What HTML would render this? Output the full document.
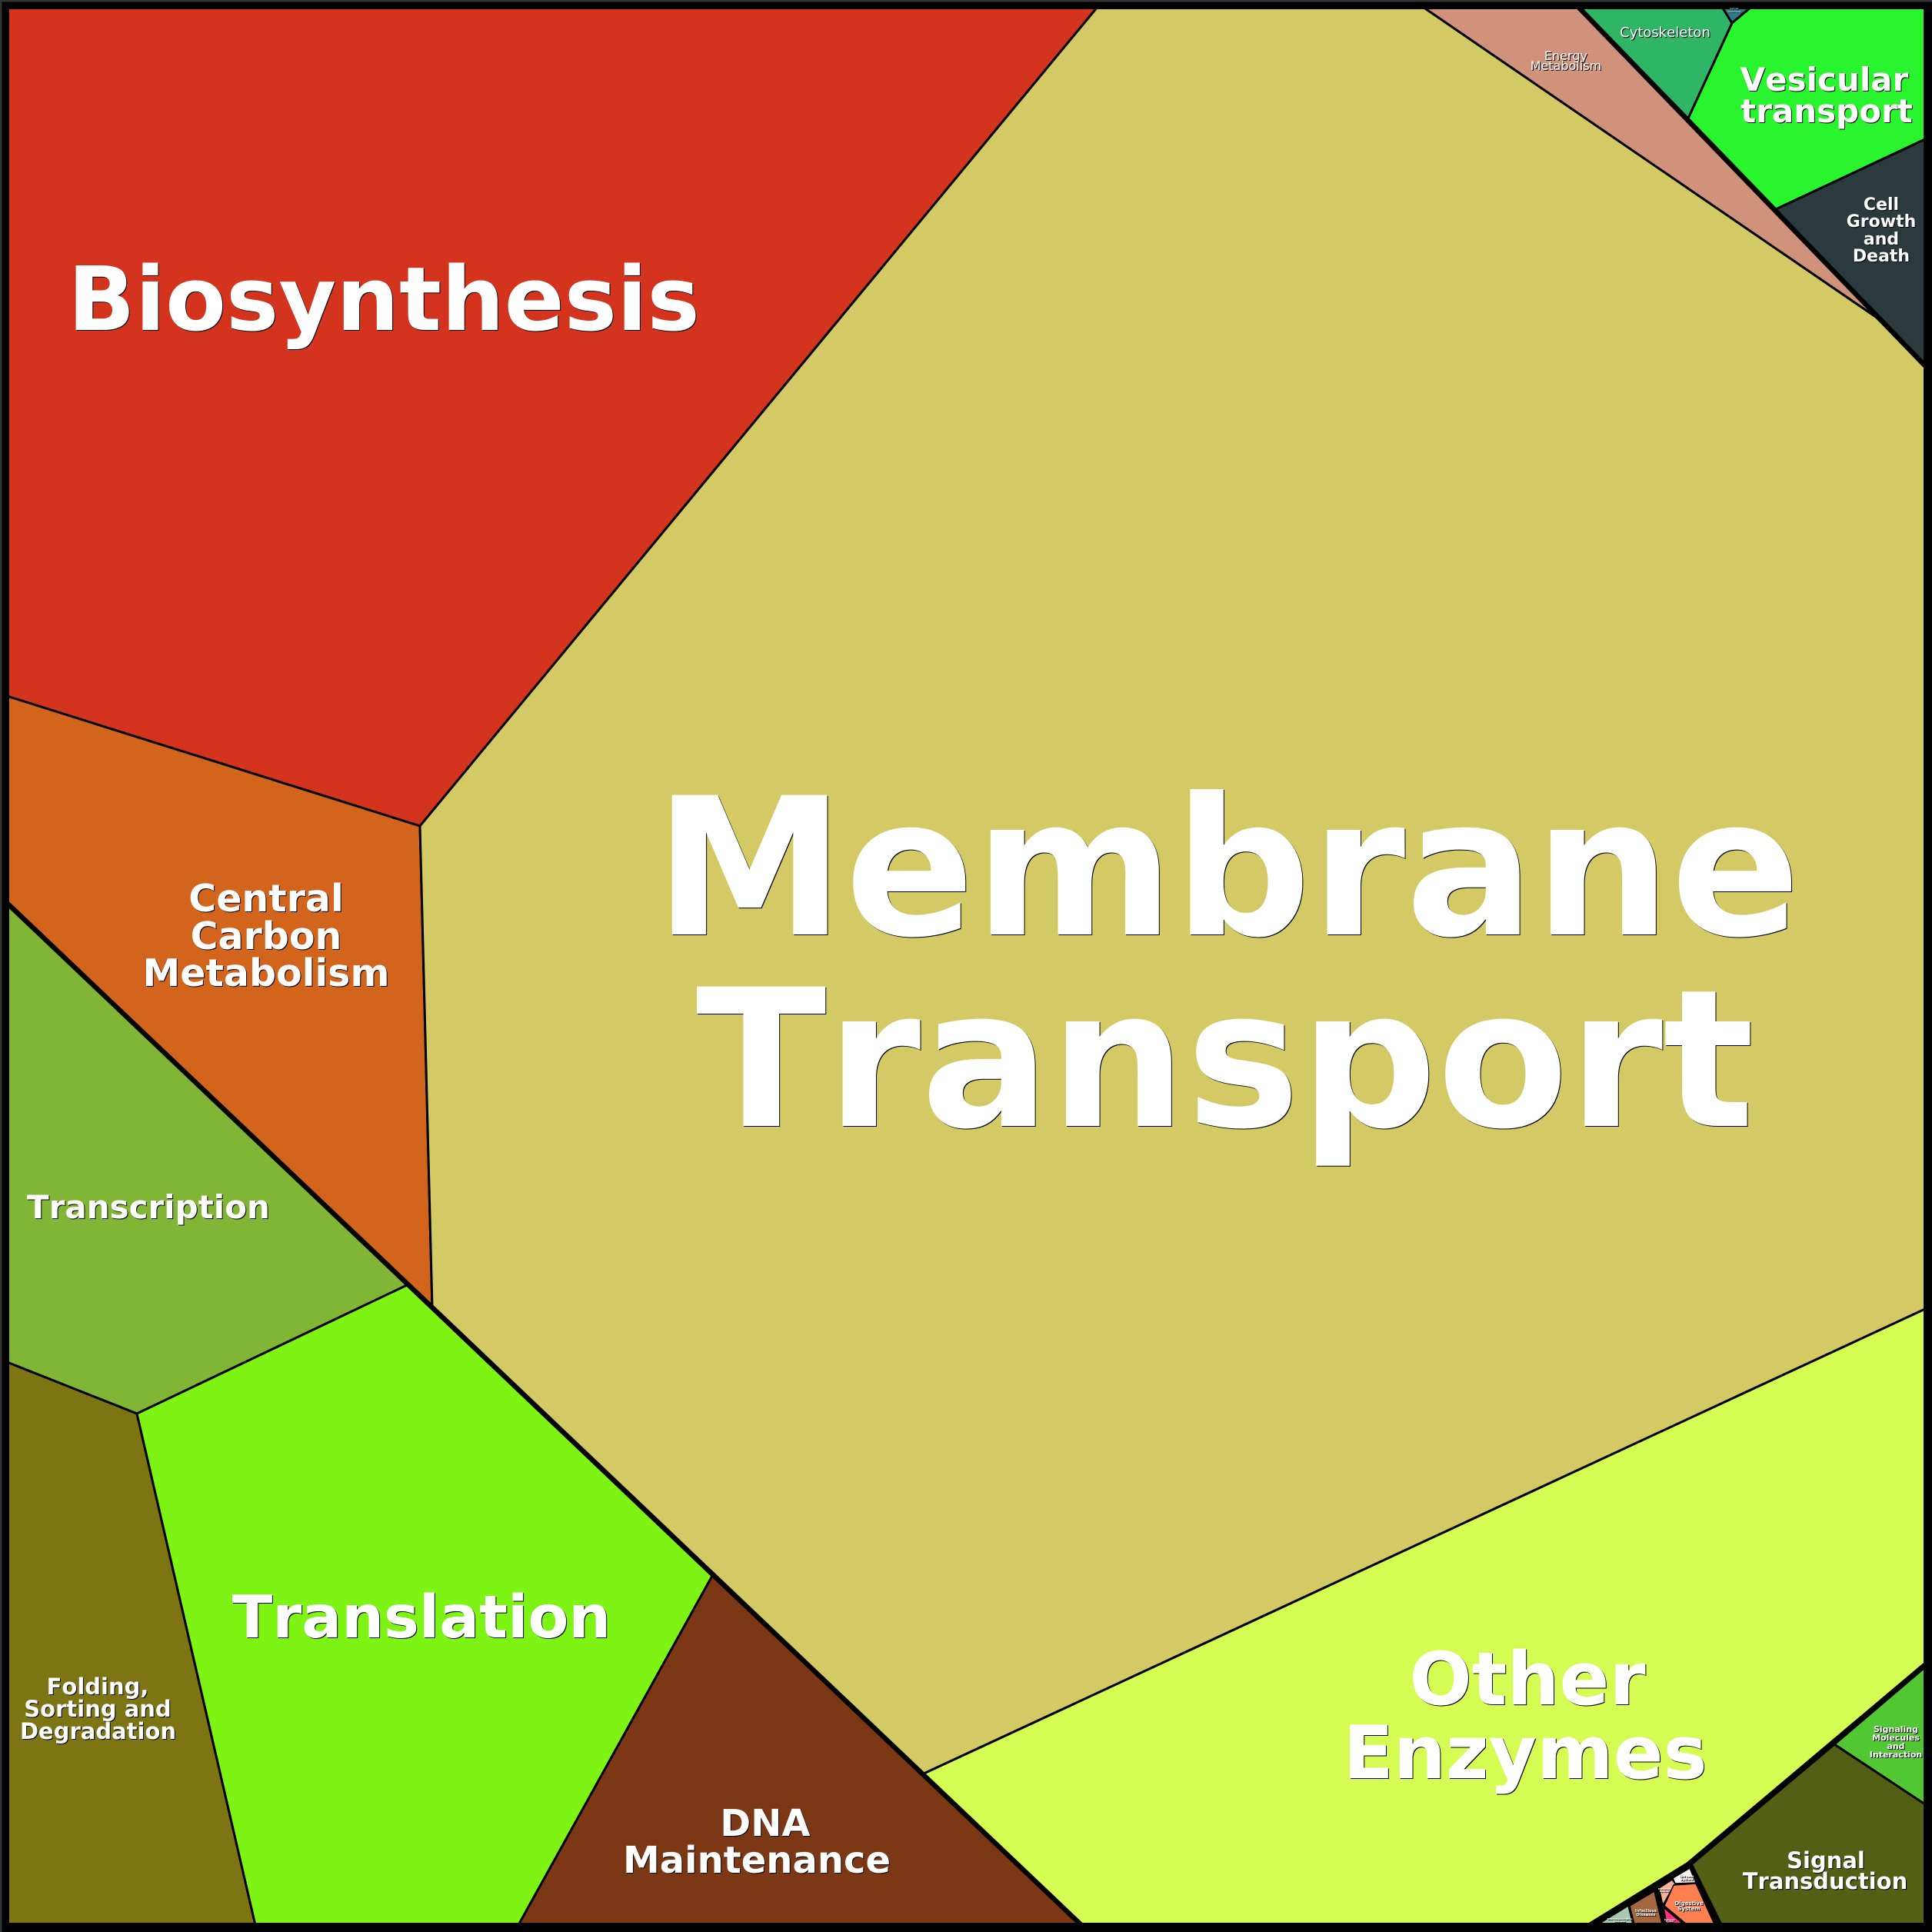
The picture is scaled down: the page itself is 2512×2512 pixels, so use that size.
<!DOCTYPE html>
<html><head><meta charset="utf-8"><style>
html,body{margin:0;padding:0;background:#000}
svg{display:block}
text{font-family:"DejaVu Sans","Liberation Sans",sans-serif;font-weight:700;fill:#fff;text-anchor:middle;font-kerning:none;filter:drop-shadow(1px 1px 0 #000)}
.r{font-weight:400}
polygon{stroke:#000;stroke-width:3;stroke-linejoin:miter}
.n{stroke-width:1.5}
.t{fill:none;stroke:#000;stroke-width:6.4}
</style></head><body>
<svg width="2512" height="2512" viewBox="0 0 2512 2512" xmlns="http://www.w3.org/2000/svg">
<rect width="2512" height="2512" fill="#000"/>
<polygon fill="#d4331e" points="9,9 1427,9 546,1074 9,905"/>
<polygon fill="#d2641c" points="9,905 546,1074 562,1700 9,1175"/>
<polygon fill="#80b535" points="9,1175 529,1671 178,1838 9,1771"/>
<polygon fill="#7d7414" points="9,1771 178,1838 332,2503 9,2503"/>
<polygon fill="#7ef414" points="178,1838 529,1671 926,2049 674,2503 332,2503"/>
<polygon fill="#7c3814" points="926,2049 1406,2503 674,2503"/>
<polygon fill="#d3c965" points="1427,9 1850,9 2441,413.5 2503,477 2503,1702 1199,2307 562,1700 546,1074"/>
<polygon fill="#d4fc52" points="1199,2307 2503,1702 2503,2164.5 2195,2424 2067,2503 1406,2503"/>
<polygon fill="#d0927a" points="1850,9 2053,9 2441,413.5"/>
<polygon fill="#2eb566" points="2053,9 2239,9 2252,30 2195,154"/>
<polygon fill="#2f7a85" points="2239,9 2277,9 2252,30"/>
<polygon fill="#29f52e" points="2277,9 2503,9 2503,181 2309,272 2195,154 2252,30"/>
<polygon fill="#2b3b3d" points="2309,272 2503,181 2503,475 2440,413"/>
<polygon fill="#52c734" points="2385,2268 2503,2167.5 2503,2346"/>
<polygon fill="#525f14" points="2385,2268 2503,2346 2503,2503 2236.5,2503 2198,2425"/>
<polygon fill="#000" points="2067,2503 2195,2424 2236.5,2503"/>
<polygon class="n" fill="#a9c8b0" points="2078,2502 2117,2478 2123,2502"/>
<polygon class="n" fill="#a5673f" points="2119,2478 2151,2459 2161,2502 2125,2502"/>
<polygon class="n" fill="#f8b09a" points="2157,2455 2174,2444 2178,2449 2162,2477"/>
<polygon class="n" fill="#fbeff0" points="2175,2442 2197,2429 2205,2448 2178,2449"/>
<polygon class="n" fill="#ff7f50" points="2176,2451 2205,2449 2229,2502 2193,2502 2164,2478"/>
<polygon class="n" fill="#ff2f80" points="2163,2480 2189,2502 2167,2502"/>
<polyline class="t" points="9,1174 562,1700 1406,2503"/>
<polyline class="t" points="2052,9 2503,475.6"/>
<polyline class="t" points="2067,2503 2195,2424 2503,2164.5"/>
<polyline class="t" points="2198,2425 2236.5,2503"/>
<path fill="#000" fill-rule="evenodd" d="M0 0H2512V2512H0Z M12 12V2500H2501V12Z"/>
<rect x="0" y="0" width="2512" height="2.5" fill="#333"/>
<rect x="0" y="0" width="2.5" height="2512" fill="#333"/>

<text font-size="248.8" x="1596" y="1215">Membrane</text>
<text font-size="248.8" x="1593" y="1464">Transport</text>
<text font-size="114.9" x="499" y="429">Biosynthesis</text>
<text font-size="77" x="548" y="2129">Translation</text>
<text font-size="95.7" x="1986" y="2216">Other</text>
<text font-size="95.7" x="1983" y="2312">Enzymes</text>
<text font-size="49" x="346" y="1185">Central</text>
<text font-size="49" x="346" y="1234">Carbon</text>
<text font-size="49" x="346" y="1282">Metabolism</text>
<text font-size="42" x="193" y="1584">Transcription</text>
<text font-size="29" x="127" y="2203">Folding,</text>
<text font-size="29" x="127" y="2232">Sorting and</text>
<text font-size="29" x="127.5" y="2261">Degradation</text>
<text font-size="48" x="995" y="2387">DNA</text>
<text font-size="48" x="984" y="2435">Maintenance</text>
<text font-size="42" x="2372" y="118">Vesicular</text>
<text font-size="42" x="2375" y="159">transport</text>
<text font-size="22" x="2446" y="273">Cell</text>
<text font-size="22" x="2446" y="295">Growth</text>
<text font-size="22" x="2446" y="318">and</text>
<text font-size="22" x="2446" y="340">Death</text>
<text font-size="29" x="2374" y="2429">Signal</text>
<text font-size="29" x="2373" y="2456">Transduction</text>
<text class="r" font-size="18" x="2165" y="48">Cytoskeleton</text>
<text class="r" font-size="16" x="2036" y="78">Energy</text>
<text class="r" font-size="16" x="2036" y="91">Metabolism</text>
<text font-size="11" x="2465" y="2252">Signaling</text>
<text font-size="11" x="2465" y="2263">Molecules</text>
<text font-size="11" x="2465" y="2274">and</text>
<text font-size="11" x="2465" y="2285">Interaction</text>
<text font-size="7" x="2196" y="2477">Digestive</text>
<text font-size="7" x="2196" y="2484">System</text>
<text font-size="5" x="2140" y="2486">Infectious</text>
<text font-size="5" x="2140" y="2491">Diseases</text>
<text font-size="4" x="2193" y="2441">Nervous</text>
<text font-size="4" x="2193" y="2445">System</text>
<text font-size="3" x="2164" y="2457">Excretory</text>
<text font-size="3" x="2164" y="2460">System</text>
<text font-size="3" x="2106" y="2496">Neurodegenerative</text>
<text font-size="3" x="2106" y="2499">Diseases</text>
<text font-size="2.5" x="2171" y="2497">Endocrine</text>
<text font-size="2.5" x="2171" y="2499">System</text>
<text class="r" font-size="3" x="2255" y="12">Cellular</text>
<text class="r" font-size="3" x="2255" y="16">Community</text>
</svg>
</body></html>
